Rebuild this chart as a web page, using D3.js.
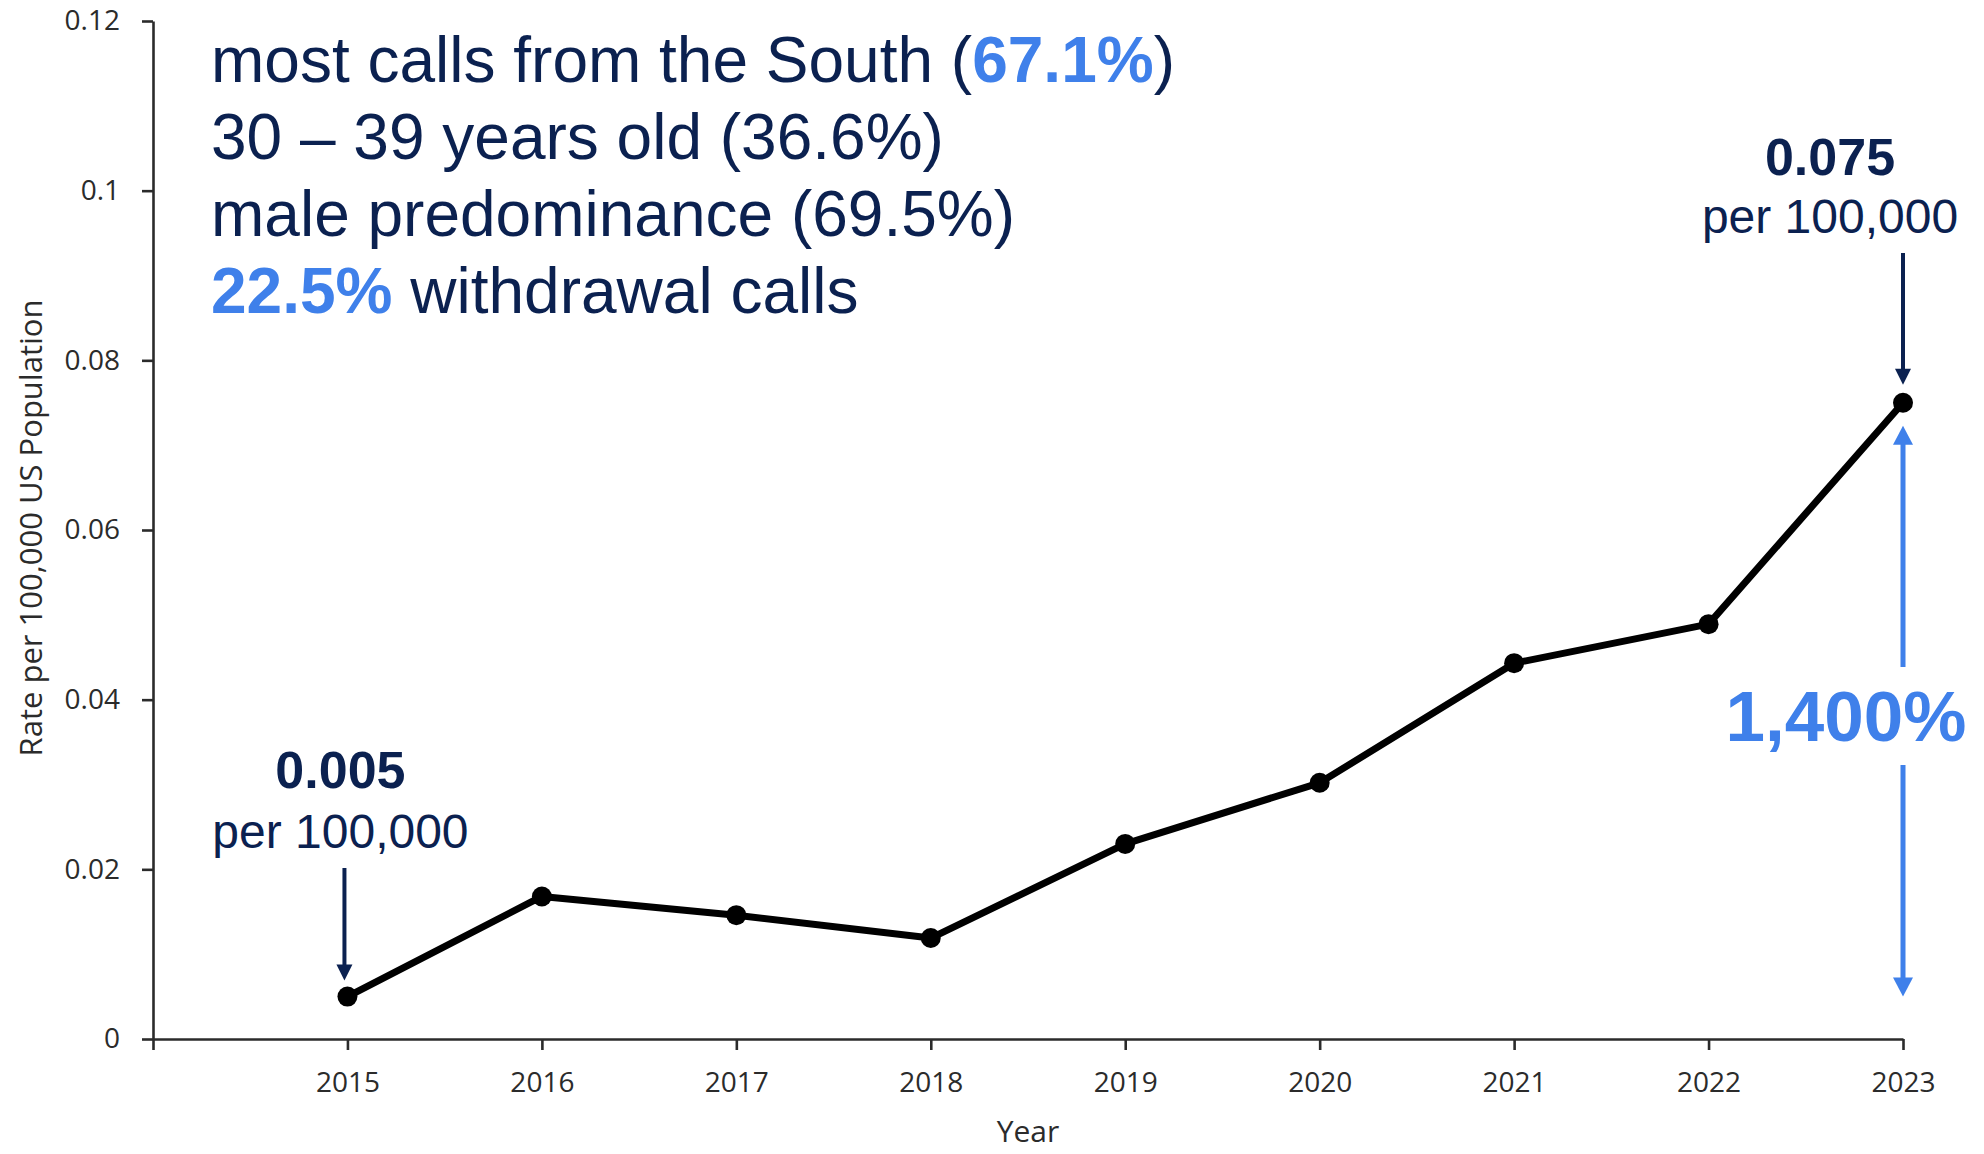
<!DOCTYPE html>
<html>
<head>
<meta charset="utf-8">
<script src="https://cdn.jsdelivr.net/npm/d3@7"></script>
<style>
  html, body { margin: 0; padding: 0; background: #ffffff; }
  svg { display: block; }
</style>
</head>
<body>
<svg id="chart" width="1984" height="1154"></svg>
<script>
// Annual rate of calls per 100,000 US population
const years = [2015, 2016, 2017, 2018, 2019, 2020, 2021, 2022, 2023];
const rates = [0.005, 0.0168, 0.0146, 0.0119, 0.0230, 0.0302, 0.0443, 0.0489, 0.075];

// Axis ticks
const xTickValues = [2014, 2015, 2016, 2017, 2018, 2019, 2020, 2021, 2022, 2023];
const xTickLabels = ["", "2015", "2016", "2017", "2018", "2019", "2020", "2021", "2022", "2023"];
const yTickValues = [0, 0.02, 0.04, 0.06, 0.08, 0.1, 0.12];
const yTickLabels = ["0", "0.02", "0.04", "0.06", "0.08", "0.1", "0.12"];

// Call-profile summary lines: [text, highlighted?] pieces
const summaryLines = [
  [["most calls from the South (", false], ["67.1%", true], [")", false]],
  [["30 \u2013 39 years old (36.6%)", false]],
  [["male predominance (69.5%)", false]],
  [["22.5%", true], [" withdrawal calls", false]]
];

// Start and end callouts
const startLabel = { value: "0.005", unit: "per 100,000" };
const endLabel = { value: "0.075", unit: "per 100,000" };
const growthLabel = "1,400%";

const NAVY = "#0b2150";
const BLUE = "#3f80ea";
const AXIS = "#2b2b2b";

const svg = d3.select("#chart");

const x = d3.scaleLinear().domain([2014, 2023]).range([153, 1903]);
const y = d3.scaleLinear().domain([0, 0.12]).range([1039, 21]);

// Y axis
const yAxis = svg.append("g")
  .attr("transform", `translate(${x(2014)},0)`)
  .call(d3.axisLeft(y)
    .tickValues(yTickValues)
    .tickFormat((d, i) => yTickLabels[i])
    .tickSize(11)
    .tickSizeOuter(0)
    .tickPadding(22));

// X axis
const xAxis = svg.append("g")
  .attr("transform", `translate(0,${y(0)})`)
  .call(d3.axisBottom(x)
    .tickValues(xTickValues)
    .tickFormat((d, i) => xTickLabels[i])
    .tickSize(11)
    .tickSizeOuter(0)
    .tickPadding(22));

[yAxis, xAxis].forEach(g => {
  g.select(".domain").attr("stroke", AXIS).attr("stroke-width", 2.6);
  g.selectAll(".tick line").attr("stroke", AXIS).attr("stroke-width", 2.6);
  g.selectAll(".tick text")
    .attr("fill", AXIS)
    .style("font-family", "'Open Sans', sans-serif")
    .style("font-size", "28px");
});

// Axis titles
svg.append("text")
  .attr("transform", `translate(42,528) rotate(-90)`)
  .attr("text-anchor", "middle")
  .attr("fill", AXIS)
  .style("font-family", "'Open Sans', sans-serif")
  .style("font-size", "31px")
  .text("Rate per 100,000 US Population");

svg.append("text")
  .attr("x", (x(2014) + x(2023)) / 2)
  .attr("y", 1142)
  .attr("text-anchor", "middle")
  .attr("fill", AXIS)
  .style("font-family", "'Open Sans', sans-serif")
  .style("font-size", "30px")
  .text("Year");

// Series line and markers
const pts = years.map((yr, i) => [yr, rates[i]]);
svg.append("path")
  .datum(pts)
  .attr("fill", "none")
  .attr("stroke", "#000000")
  .attr("stroke-width", 7)
  .attr("stroke-linejoin", "round")
  .attr("d", d3.line().x(d => x(d[0])).y(d => y(d[1])));

svg.append("g")
  .selectAll("circle")
  .data(pts)
  .join("circle")
  .attr("cx", d => x(d[0]))
  .attr("cy", d => y(d[1]))
  .attr("r", 10)
  .attr("fill", "#000000");

// Summary text block
const summary = svg.append("text")
  .attr("fill", NAVY)
  .style("font-family", "'Liberation Sans', Arial, sans-serif")
  .style("font-size", "64px");
summaryLines.forEach((parts, li) => {
  parts.forEach(([txt, hi], pi) => {
    const t = summary.append("tspan").text(txt);
    if (pi === 0) t.attr("x", 211).attr("y", 82 + li * 77);
    if (hi) t.attr("fill", BLUE).attr("font-weight", "bold");
  });
});

// Arrow helper: vertical shaft with a triangular head at the tip
function arrow(xPos, yFrom, yTo, color, width, headW, headL) {
  const dir = yTo > yFrom ? 1 : -1;
  svg.append("line")
    .attr("x1", xPos).attr("x2", xPos)
    .attr("y1", yFrom).attr("y2", yTo - dir * headL * 0.9)
    .attr("stroke", color).attr("stroke-width", width);
  svg.append("path")
    .attr("d", `M${xPos - headW / 2},${yTo - dir * headL} L${xPos + headW / 2},${yTo - dir * headL} L${xPos},${yTo} Z`)
    .attr("fill", color);
}

function callout(cx, baseValue, baseUnit, lbl) {
  svg.append("text")
    .attr("x", cx).attr("y", baseValue)
    .attr("text-anchor", "middle")
    .attr("fill", NAVY)
    .attr("font-weight", "bold")
    .style("font-family", "'Liberation Sans', Arial, sans-serif")
    .style("font-size", "52px")
    .text(lbl.value);
  svg.append("text")
    .attr("x", cx).attr("y", baseUnit)
    .attr("text-anchor", "middle")
    .attr("fill", NAVY)
    .style("font-family", "'Liberation Sans', Arial, sans-serif")
    .style("font-size", "48px")
    .text(lbl.unit);
}

// Start callout (2015)
callout(x(2015) - 7, 788, 848, startLabel);
arrow(x(2015) - 3, 868, y(rates[0]) - 16, NAVY, 4, 16, 16);

// End callout (2023)
callout(x(2023) - 73, 175, 233, endLabel);
arrow(x(2023), 253, y(rates[rates.length - 1]) - 18, NAVY, 4, 16, 16);

// Growth indicator: double arrow spanning the start and end levels
const gx = x(2023);
arrow(gx, 667, y(rates[rates.length - 1]) + 23, BLUE, 5, 20, 19);
arrow(gx, 765, y(rates[0]), BLUE, 5, 20, 19);
svg.append("text")
  .attr("x", gx - 57).attr("y", 741)
  .attr("text-anchor", "middle")
  .attr("fill", BLUE)
  .attr("font-weight", "bold")
  .style("font-family", "'Liberation Sans', Arial, sans-serif")
  .style("font-size", "71px")
  .text(growthLabel);
</script>
</body>
</html>
